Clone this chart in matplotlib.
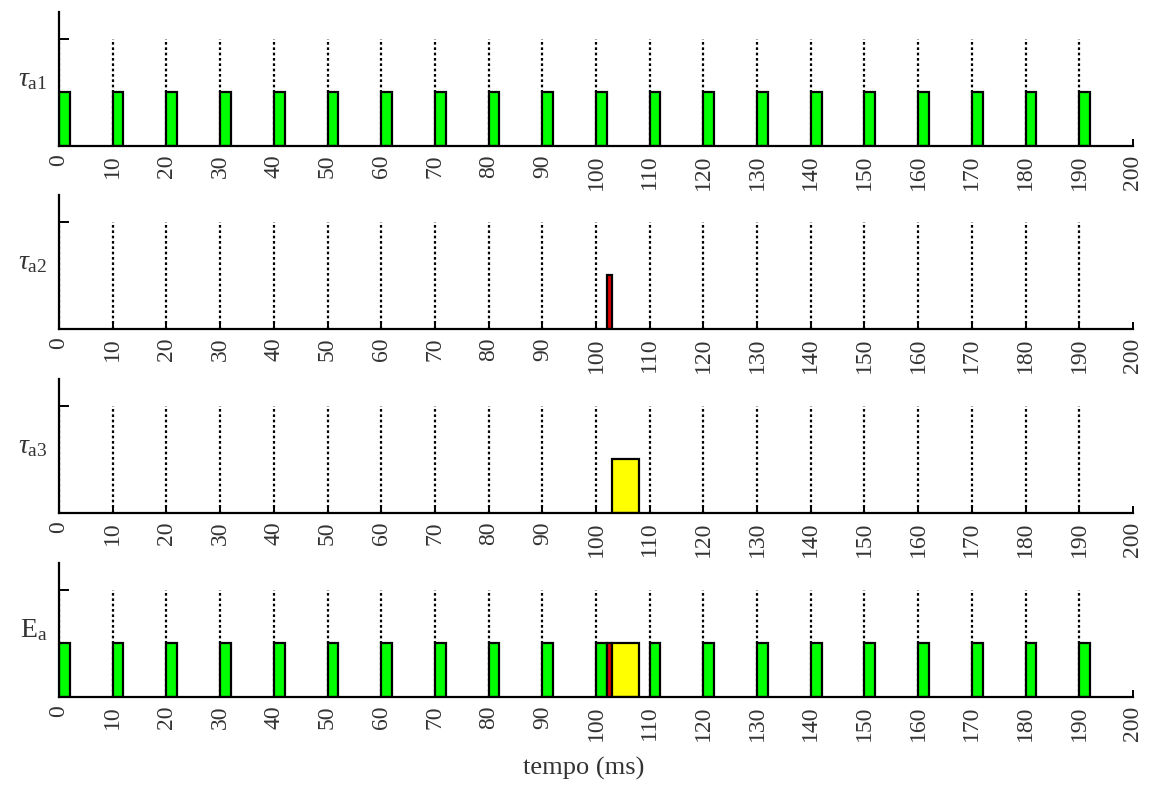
import matplotlib.pyplot as plt
import matplotlib.transforms as mtransforms

plt.rcParams['font.family'] = ['Liberation Serif', 'DejaVu Serif']
plt.rcParams['mathtext.fontset'] = 'custom'
plt.rcParams['mathtext.rm'] = 'Liberation Serif'
plt.rcParams['mathtext.it'] = 'Liberation Serif:italic'

# activation instants (ms) of the periodic task a1, also the dotted marks
releases = [0, 10, 20, 30, 40, 50, 60, 70, 80, 90,
            100, 110, 120, 130, 140, 150, 160, 170, 180, 190]
a1_starts = [0, 10, 20, 30, 40, 50, 60, 70, 80, 90,
             100, 110, 120, 130, 140, 150, 160, 170, 180, 190]
a1_duration = 2
a2_starts = [102]
a2_duration = 1
a3_starts = [103]
a3_duration = 5
xticks = [0, 10, 20, 30, 40, 50, 60, 70, 80, 90, 100,
          110, 120, 130, 140, 150, 160, 170, 180, 190, 200]
labels = [r'$\tau_{\rm a1}$', r'$\tau_{\rm a2}$', r'$\tau_{\rm a3}$', r'${\rm E}_{\rm a}$']

green = '#00ff00'
red = '#dd0000'
yellow = '#ffff00'

fig = plt.figure(figsize=(11.51, 7.88), dpi=100)
left, width = 0.0513, 0.9330
bottoms = [0.8147, 0.5825, 0.3490, 0.1155]
height = 0.170

for i, b in enumerate(bottoms):
    ax = fig.add_axes([left, b, width, height])
    ax.vlines(releases, 0, 2, colors='black', linestyles=(0, (1.2, 1.2)),
              linewidth=1.6, zorder=1)
    if i == 0 or i == 3:
        ax.bar(a1_starts, 1, width=a1_duration, align='edge', color=green,
               edgecolor='black', linewidth=1.6, zorder=2)
    if i == 1 or i == 3:
        ax.bar(a2_starts, 1, width=a2_duration, align='edge', color=red,
               edgecolor='black', linewidth=1.6, zorder=2)
    if i == 2 or i == 3:
        ax.bar(a3_starts, 1, width=a3_duration, align='edge', color=yellow,
               edgecolor='black', linewidth=1.6, zorder=2)

    ax.set_xlim(0, 200)
    ax.set_ylim(0, 2.5)
    ax.spines['top'].set_visible(False)
    ax.spines['right'].set_visible(False)
    ax.spines['left'].set_linewidth(1.6)
    ax.spines['bottom'].set_linewidth(1.6)
    ax.spines['bottom'].set_zorder(3)
    ax.set_xticks(xticks)
    ax.set_xticklabels([str(t) for t in xticks], rotation=90)
    ax.tick_params(axis='x', direction='in', length=5, width=1.4,
                   labelsize=17, pad=6, labelcolor='#333333')
    ax.set_yticks([2])
    ax.set_yticklabels([])
    ax.tick_params(axis='y', direction='in', length=7, width=1.4)

    trans = mtransforms.blended_transform_factory(ax.transAxes, ax.transData)
    ax.text(-0.011, 1.0, labels[i], transform=trans, ha='right', va='bottom',
            fontsize=20, color='#333333')

fig.text(0.5075, 0.025, 'tempo (ms)', ha='center', va='center', fontsize=19,
         color='#333333')

fig.savefig('out.png', dpi=100)
